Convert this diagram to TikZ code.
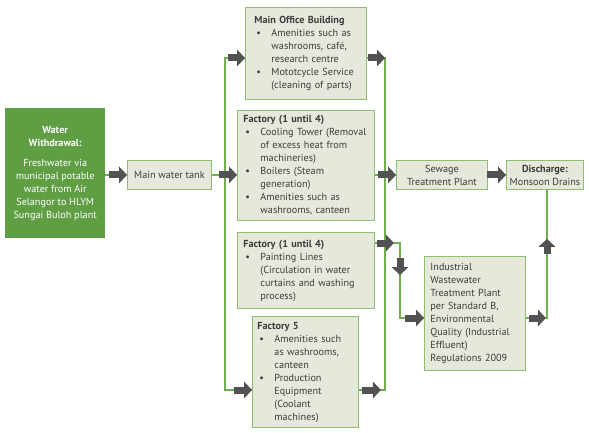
\documentclass[tikz,border=0pt]{standalone}
\usepackage{fontspec}
\setmainfont{PT Sans}
\usetikzlibrary{arrows.meta,calc}
\definecolor{boxfill}{HTML}{E4E9DC}
\definecolor{bord}{HTML}{8CBF70}
\definecolor{gline}{HTML}{70AF50}
\definecolor{dgreen}{HTML}{609E44}
\definecolor{arr}{HTML}{525252}
\definecolor{txt}{HTML}{3C3C3C}
\setlength\parindent{0pt}
\newcommand\bu{\makebox[17pt][l]{\hspace{2pt}\textbullet}}
\begin{document}
\begin{tikzpicture}[x=1pt,y=-1pt,
  box/.style={draw=bord, fill=boxfill, line width=0.9pt, anchor=north west, inner ysep=0pt,
    font=\fontsize{10.2}{13}\selectfont, text=txt, align=left},
  cbox/.style={box, align=center, inner xsep=0pt},
  wbox/.style={fill=dgreen, anchor=north west, inner sep=0pt, align=center,
    font=\fontsize{10.2}{13}\selectfont, text=white},
  gl/.style={draw=gline, line width=1.2pt},
  blk/.style={draw=arr, line width=7pt, -{Triangle[length=8pt,width=17pt,line width=0pt]}}]
\useasboundingbox (0,0) rectangle (589,433);

% helper coordinates
\coordinate (lt) at (225,58);
\coordinate (lb) at (225,390);
\coordinate (rt) at (385,58);
\coordinate (rb) at (385,390);
\coordinate (py) at (0,243);
\coordinate (ix) at (400,318);
\coordinate (iy) at (547,318);

% nodes
\node[wbox, minimum width=100pt, minimum height=130pt] (ww) at (5,108)
  {\textbf{Water}\\\textbf{Withdrawal:}\\[7pt]Freshwater via\\municipal potable\\water from Air\\Selangor to HLYM\\Sungai Buloh plant};

\node[cbox, minimum width=84pt, minimum height=29pt] (tank) at (127,160) {Main water tank};

\node[box, text width=103pt, inner xsep=9pt, minimum height=92pt] (office) at (245,7)
  {\begin{tabular}{@{}l@{}l@{}}
   \multicolumn{2}{@{}l@{}}{\textbf{Main Office Building}}\\
   \bu & Amenities such as\\
       & washrooms, café,\\
       & research centre\\
   \bu & Mototcycle Service\\
       & (cleaning of parts)
   \end{tabular}};

\node[box, text width=125pt, inner xsep=6pt, minimum height=110pt] (fac) at (237,110)
  {\begin{tabular}{@{}l@{}l@{}}
   \multicolumn{2}{@{}l@{}}{\textbf{Factory (1 until 4)}}\\
   \bu & Cooling Tower (Removal\\
       & of excess heat from\\
       & machineries)\\
   \bu & Boilers (Steam\\
       & generation)\\
   \bu & Amenities such as\\
       & washrooms, canteen
   \end{tabular}};

\node[box, text width=125pt, inner xsep=6pt, minimum height=76pt] (paint) at (237,232)
  {\begin{tabular}{@{}l@{}l@{}}
   \multicolumn{2}{@{}l@{}}{\textbf{Factory (1 until 4)}}\\
   \bu & Painting Lines\\
       & (Circulation in water\\
       & curtains and washing\\
       & process)
   \end{tabular}};

\node[box, text width=96pt, inner xsep=5pt, minimum height=111pt] (f5) at (252,316)
  {\begin{tabular}{@{}l@{}l@{}}
   \multicolumn{2}{@{}l@{}}{\textbf{Factory 5}}\\
   \bu & Amenities such\\
       & as washrooms,\\
       & canteen\\
   \bu & Production\\
       & Equipment\\
       & (Coolant\\
       & machines)
   \end{tabular}};

\node[cbox, minimum width=91pt, minimum height=29pt] (sew) at (396,160) {Sewage\\Treatment Plant};
\node[cbox, minimum width=77pt, minimum height=29pt] (dis) at (506,160) {\textbf{Discharge:}\\Monsoon Drains};

\node[box, text width=89pt, inner xsep=6pt, minimum height=114pt] (iw) at (424,256)
  {\begin{tabular}{@{}l@{}}
   Industrial\\ Wastewater\\ Treatment Plant\\ per Standard B,\\ Environmental\\
   Quality (Industrial\\ Effluent)\\ Regulations 2009
   \end{tabular}};

% green connectors
\draw[gl] (ww.east |- tank) -- (tank.west);
\draw[gl] (tank.east) -- (tank.east -| fac.west);
\draw[gl] (office.west |- lt) -- (lt) -- (lb) -- (lb -| f5.west);
\draw[gl] (office.east |- rt) -- (rt) -- (rb) -- (rb -| f5.east);
\draw[gl] (sew.west -| fac.east) -- (sew.west);
\draw[gl] (sew.east) -- (dis.west);
\draw[gl] (paint.east |- py) -| (ix) -- (ix -| iw.west);
\draw[gl] (iy -| iw.east) -- (iy) -- (iy |- dis.south);

% block arrows
\draw[blk] ($(tank.west)+(-18,0)$) -- (tank.west);
\draw[blk] ($(fac.west|-tank)+(-18,0)$) -- (fac.west|-tank);
\draw[blk] ($(office.west|-lt)+(-17,0)$) -- (office.west|-lt);
\draw[blk] ($(f5.west|-lb)+(-18,0)$) -- (f5.west|-lb);
\draw[blk] ($(office.east|-rt)+(1,0)$) -- (rt);
\draw[blk] ($(sew.west)+(-18,0)$) -- (sew.west);
\draw[blk] ($(f5.east|-lb)+(3,0)$) -- ($(f5.east|-lb)+(22,0)$);
\draw[blk] ($(paint.east|-py)+(2,0)$) -- ($(paint.east|-py)+(19,0)$);
\draw[blk] ($(ix|-py)+(0,15)$) -- ($(ix|-py)+(0,32)$);
\draw[blk] ($(iw.west|-ix)+(-19,0)$) -- (iw.west|-ix);
\draw[blk] ($(dis.west)+(-19,0)$) -- (dis.west);
\draw[blk] ($(iw.east|-iy)+(3,0)$) -- ($(iw.east|-iy)+(20,0)$);
\draw[blk] ($(iy|-dis.south)+(0,64)$) -- ($(iy|-dis.south)+(0,49)$);
\end{tikzpicture}
\end{document}
